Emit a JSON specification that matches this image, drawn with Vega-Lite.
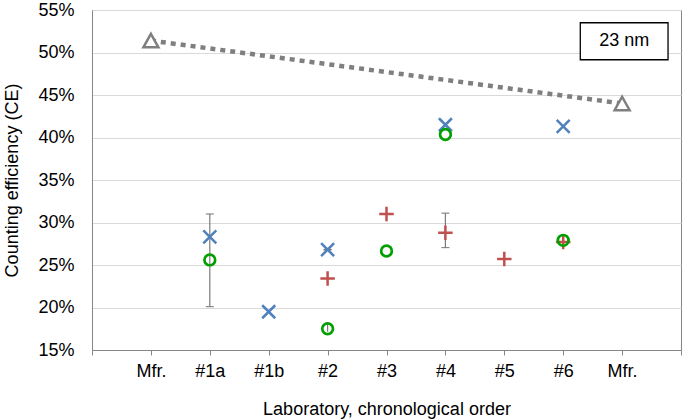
{
  "$schema": "https://vega.github.io/schema/vega-lite/v6.json",
  "width": 589,
  "height": 340,
  "autosize": {"type": "none"},
  "padding": {"left": 92, "top": 10, "right": 4, "bottom": 69},
  "background": "white",
  "config": {
    "view": {"stroke": "#868686", "strokeWidth": 1},
    "font": "Liberation Sans"
  },
  "datasets": {
    "points": [
      {"x": 1, "s": "tri", "v": 0.514},
      {"x": 9, "s": "tri", "v": 0.440},
      {"x": 2, "s": "x", "v": 0.283},
      {"x": 3, "s": "x", "v": 0.195},
      {"x": 4, "s": "x", "v": 0.268},
      {"x": 6, "s": "x", "v": 0.415},
      {"x": 8, "s": "x", "v": 0.413},
      {"x": 4, "s": "plus", "v": 0.234},
      {"x": 5, "s": "plus", "v": 0.310},
      {"x": 6, "s": "plus", "v": 0.288},
      {"x": 7, "s": "plus", "v": 0.257},
      {"x": 8, "s": "plus", "v": 0.277},
      {"x": 2, "s": "o", "v": 0.256},
      {"x": 4, "s": "o", "v": 0.175},
      {"x": 5, "s": "o", "v": 0.2665},
      {"x": 6, "s": "o", "v": 0.4035},
      {"x": 8, "s": "o", "v": 0.279}
    ],
    "errors": [
      {"x": 2, "lo": 0.201, "hi": 0.310},
      {"x": 6, "lo": 0.2705, "hi": 0.311},
      {"x": 4, "lo": 0.2678, "hi": 0.2682}
    ],
    "small": [
      {"x": 4, "lo": 0.1715, "hi": 0.1805}
    ],
    "box": [
      {"x1": 8.29, "x2": 9.78, "y1": 0.4915, "y2": 0.535, "xc": 9.035, "yc": 0.5135, "t": "23 nm"}
    ]
  },
  "layer": [
    {
      "data": {"name": "box"},
      "mark": {"type": "rect", "fill": "white", "stroke": "black", "strokeWidth": 1.3},
      "encoding": {
        "x": {"field": "x1", "type": "quantitative", "title": "Laboratory, chronological order", "scale": {"domain": [0, 10], "nice": false, "zero": false},
          "axis": {
            "values": [0, 1, 2, 3, 4, 5, 6, 7, 8, 9, 10],
            "labelExpr": "['', 'Mfr.', '#1a', '#1b', '#2', '#3', '#4', '#5', '#6', 'Mfr.', ''][datum.value]",
            "grid": false,
            "domainColor": "#868686",
            "tickColor": "#868686",
            "tickSize": 5,
            "labelFontSize": 18,
            "labelColor": "#000000",
            "labelPadding": 7,
            "labelFlush": false,
            "title": "Laboratory, chronological order",
            "titleFontSize": 18,
            "titleFontWeight": "normal",
            "titleColor": "#000000",
            "titleBaseline": "alphabetic",
            "titleY": 64
          }
        },
        "x2": {"field": "x2"},
        "y": {"field": "y1", "type": "quantitative", "title": "Counting efficiency (CE)", "scale": {"domain": [0.15, 0.55], "nice": false, "zero": false},
          "axis": {
            "values": [0.15, 0.2, 0.25, 0.3, 0.35, 0.4, 0.45, 0.5, 0.55],
            "format": ".0%",
            "grid": true,
            "gridColor": "#d9d9d9",
            "gridWidth": 1,
            "ticks": false,
            "domainColor": "#868686",
            "labelFontSize": 18,
            "labelColor": "#000000",
            "labelPadding": 18,
            "labelFlush": false,
            "title": "Counting efficiency (CE)",
            "titleFontSize": 18,
            "titleFontWeight": "normal",
            "titleColor": "#000000",
            "titleBaseline": "alphabetic",
            "titleX": -75
          }
        },
        "y2": {"field": "y2"}
      }
    },
    {
      "data": {"name": "box"},
      "mark": {"type": "text", "fontSize": 18, "color": "black", "align": "center", "baseline": "middle"},
      "encoding": {
        "x": {"field": "xc", "type": "quantitative", "title": "Laboratory, chronological order"},
        "y": {"field": "yc", "type": "quantitative", "title": "Counting efficiency (CE)"},
        "text": {"field": "t"}
      }
    },
    {
      "data": {"name": "points"},
      "transform": [{"filter": "datum.s === 'tri'"}],
      "mark": {"type": "line", "color": "#7f7f7f", "strokeWidth": 4.5, "strokeDash": [5, 5]},
      "encoding": {
        "x": {"field": "x", "type": "quantitative", "title": "Laboratory, chronological order"},
        "y": {"field": "v", "type": "quantitative", "title": "Counting efficiency (CE)"}
      }
    },
    {
      "data": {"name": "errors"},
      "mark": {"type": "errorbar", "ticks": {"size": 8, "color": "#555555"}, "rule": {"color": "#7a7a7a"}, "thickness": 1.2},
      "encoding": {
        "x": {"field": "x", "type": "quantitative", "title": "Laboratory, chronological order"},
        "y": {"field": "lo", "type": "quantitative", "title": "Counting efficiency (CE)"},
        "y2": {"field": "hi"}
      }
    },
    {
      "data": {"name": "small"},
      "mark": {"type": "rule", "color": "#7a7a7a", "strokeWidth": 1.2},
      "encoding": {
        "x": {"field": "x", "type": "quantitative", "title": "Laboratory, chronological order"},
        "y": {"field": "lo", "type": "quantitative", "title": "Counting efficiency (CE)"},
        "y2": {"field": "hi"}
      }
    },
    {
      "data": {"name": "points"},
      "transform": [{"filter": "datum.s === 'tri'"}],
      "mark": {"type": "point", "shape": "M0,-0.9L1,0.9L-1,0.9Z", "size": 225, "filled": false, "fill": "white", "fillOpacity": 1, "stroke": "#7f7f7f", "strokeWidth": 2.5, "opacity": 1},
      "encoding": {
        "x": {"field": "x", "type": "quantitative", "title": "Laboratory, chronological order"},
        "y": {"field": "v", "type": "quantitative", "title": "Counting efficiency (CE)"}
      }
    },
    {
      "data": {"name": "points"},
      "transform": [{"filter": "datum.s === 'x'"}],
      "mark": {"type": "point", "shape": "M-1,-1L1,1M1,-1L-1,1", "size": 169, "filled": false, "stroke": "#4f81bd", "strokeWidth": 2.5, "opacity": 1},
      "encoding": {
        "x": {"field": "x", "type": "quantitative", "title": "Laboratory, chronological order"},
        "y": {"field": "v", "type": "quantitative", "title": "Counting efficiency (CE)"}
      }
    },
    {
      "data": {"name": "points"},
      "transform": [{"filter": "datum.s === 'plus'"}],
      "mark": {"type": "point", "shape": "M-1,0L1,0M0,-1L0,1", "size": 210, "filled": false, "stroke": "#c0504d", "strokeWidth": 2.5, "opacity": 1},
      "encoding": {
        "x": {"field": "x", "type": "quantitative", "title": "Laboratory, chronological order"},
        "y": {"field": "v", "type": "quantitative", "title": "Counting efficiency (CE)"}
      }
    },
    {
      "data": {"name": "points"},
      "transform": [{"filter": "datum.s === 'o'"}],
      "mark": {"type": "point", "shape": "circle", "size": 115, "filled": false, "stroke": "#00a000", "strokeWidth": 2.7, "opacity": 1},
      "encoding": {
        "x": {"field": "x", "type": "quantitative", "title": "Laboratory, chronological order"},
        "y": {"field": "v", "type": "quantitative", "title": "Counting efficiency (CE)"}
      }
    }
  ]
}
